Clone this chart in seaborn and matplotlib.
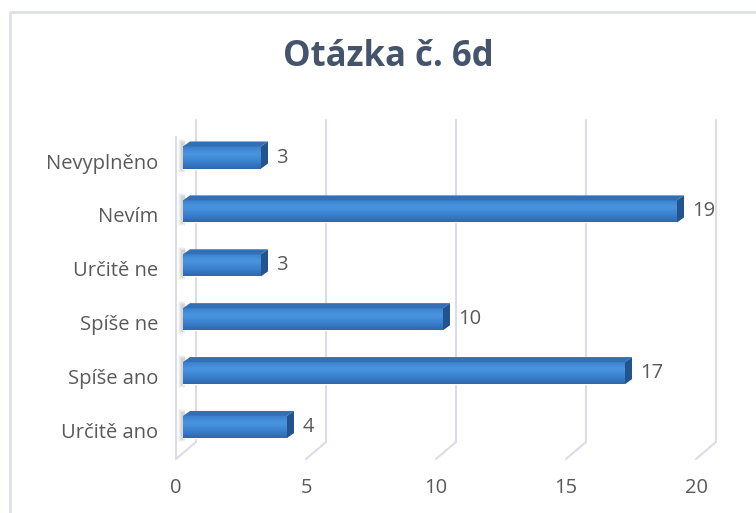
import numpy as np
import pandas as pd
import seaborn as sns
import matplotlib
matplotlib.use("Agg")
import matplotlib.pyplot as plt
from matplotlib import transforms
from matplotlib.patches import Polygon
from matplotlib.lines import Line2D
from matplotlib.colors import LinearSegmentedColormap

# ---- data ----
categories = ["Nevyplněno", "Nevím", "Určitě ne", "Spíše ne", "Spíše ano", "Určitě ano"]
values = [3, 19, 3, 10, 17, 4]
x_ticks = [0, 5, 10, 15, 20]
title = "Otázka č. 6d"

sns.set_theme(style="white")
plt.rcParams['font.family'] = ['Open Sans', 'DejaVu Sans']

W, H = 756, 513
fig = plt.figure(figsize=(W / 100, H / 100), dpi=100)
fig.patch.set_facecolor("white")


def fx(px):
    return px / W


def fy(py):
    return 1 - py / H


ax = fig.add_axes([fx(183), fy(442), fx(703) - fx(183), fy(120) - fy(442)])
df = pd.DataFrame({"kategorie": categories, "pocet": values})
sns.barplot(data=df, y="kategorie", x="pocet", orient="h", color="#3d85d0",
            width=0.41, saturation=1, ax=ax, zorder=3)
ax.set_xlim(0, 20)
ax.set_ylim(5.278, -0.696)
ax.set_xlabel("")
ax.set_ylabel("")
for s in ax.spines.values():
    s.set_visible(False)
ax.set_facecolor("none")

text_col = "#595959"
fs = 14.5
ax.set_xticks(x_ticks)
ax.set_xticklabels([str(t) for t in x_ticks])
ax.tick_params(axis="x", length=0, pad=26, labelsize=fs, labelcolor=text_col)
ax.tick_params(axis="y", length=0, pad=18, labelsize=fs, labelcolor=text_col)
for lab in ax.get_xticklabels():
    lab.set_transform(lab.get_transform() + transforms.ScaledTranslation(-0.07, 0, fig.dpi_scale_trans))
for lab in ax.get_yticklabels():
    lab.set_transform(lab.get_transform() + transforms.ScaledTranslation(0, -0.035, fig.dpi_scale_trans))

# gradient on bar fronts
cmap = LinearSegmentedColormap.from_list("bar", ["#3a7fcb", "#4a95e0", "#3b82d0", "#2c68ad"])
grad = np.linspace(0, 1, 64).reshape(-1, 1)
bars = list(ax.containers[0])
for p in bars:
    x0, y0 = p.get_x(), p.get_y()
    w, h = p.get_width(), p.get_height()
    im = ax.imshow(grad, cmap=cmap, aspect="auto", extent=(x0, x0 + w, y0 + h, y0),
                   zorder=3.5, interpolation="bicubic")
    im.set_clip_path(p)
ax.set_xlim(0, 20)
ax.set_ylim(5.278, -0.696)

# value labels
labels = ax.bar_label(ax.containers[0], padding=11, fontsize=fs, color=text_col)
for t in labels:
    t.set_transform(t.get_transform() + transforms.ScaledTranslation(0, -0.02, fig.dpi_scale_trans))

fig.canvas.draw()
ident = transforms.IdentityTransform()

# 3D faces of bars (derived from bar extents)
dx, dy = 7, 5
for p in bars:
    bb = p.get_window_extent()
    x0, x1, y0, y1 = bb.x0, bb.x1, bb.y0, bb.y1
    top = Polygon([(x0, y1), (x1, y1), (x1 + dx, y1 + dy), (x0 + dx, y1 + dy)],
                  closed=True, transform=ident, facecolor="#336fb4", edgecolor="none",
                  zorder=4, clip_on=False)
    side = Polygon([(x1, y0), (x1 + dx, y0 + dy), (x1 + dx, y1 + dy), (x1, y1)],
                   closed=True, transform=ident, facecolor="#23548d", edgecolor="none",
                   zorder=4, clip_on=False)
    ax.add_patch(top)
    ax.add_patch(side)
    # soft blurred shadow on the wall
    for k, a in enumerate([0.06, 0.08, 0.1, 0.12]):
        sh = Polygon([(x0 - 5 + k, y0 - 4 + k), (x0 + 2, y0 - 4 + k),
                      (x0 + 2, y1 + dy + 2 - k), (x0 - 5 + k, y1 + dy + 2 - k)],
                     closed=True, transform=ident, facecolor="#7a7a7a", edgecolor="none",
                     alpha=a, zorder=2, clip_on=False)
        ax.add_patch(sh)

# 3D gridlines: back wall verticals + floor diagonals
grid_col = "#dadde5"
back_off, front_off, floor_drop = 13, -7, 17
ytop = ax.transAxes.transform((0, 1))[1]
ybot = ax.transAxes.transform((0, 0))[1]
for v in x_ticks:
    xb = ax.transData.transform((v, 0))[0] + back_off
    xf = ax.transData.transform((v, 0))[0] + front_off
    ax.add_line(Line2D([xb, xb], [ybot, ytop], transform=ident, color=grid_col,
                       lw=1.5, zorder=1, clip_on=False))
    ax.add_line(Line2D([xb, xf], [ybot, ybot - floor_drop], transform=ident, color=grid_col,
                       lw=1.5, zorder=1, clip_on=False))
# wall front edge
x0w = ax.transData.transform((0, 0))[0] + front_off
ax.add_line(Line2D([x0w, x0w], [ybot - floor_drop, ytop - floor_drop], transform=ident,
                   color=grid_col, lw=1.5, zorder=1, clip_on=False))

# title
fig.text(fx(388), fy(57), title, ha="center", va="center", fontsize=25,
         fontweight="bold", color="#44546a")

# outer chart border
border_col = "#dde1e8"
fig.add_artist(Line2D([fx(10), fx(10), fx(760)], [fy(520), fy(12), fy(12)],
                      transform=fig.transFigure, color=border_col, lw=2))

fig.savefig("out.png", dpi=100, facecolor="white")
